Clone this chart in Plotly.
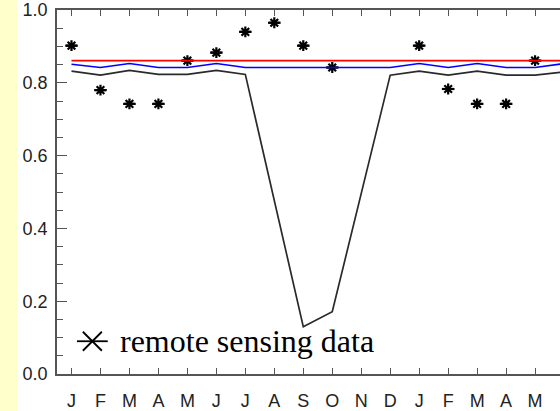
import plotly.graph_objects as go

months = ["J", "F", "M", "A", "M", "J", "J", "A", "S", "O", "N", "D",
          "J", "F", "M", "A", "M", "J"]
month_idx = list(range(len(months)))

black_model = [0.832, 0.821, 0.834, 0.823, 0.823, 0.834, 0.823, 0.475, 0.130,
               0.171, 0.494, 0.821, 0.832, 0.821, 0.832, 0.821, 0.821, 0.830]
blue_model = [0.851, 0.842, 0.853, 0.842, 0.842, 0.853, 0.842, 0.842, 0.842,
              0.842, 0.842, 0.842, 0.853, 0.842, 0.853, 0.842, 0.842, 0.853]
red_model = [0.861] * len(months)

rs_x = [0, 1, 2, 3, 4, 5, 6, 7, 8, 9, 12, 13, 14, 15, 16, 17]
rs_y = [0.902, 0.780, 0.742, 0.742, 0.861, 0.883, 0.940, 0.965, 0.902, 0.842,
        0.902, 0.783, 0.742, 0.742, 0.861, 0.886]

legend_label = "remote sensing data"
legend_pos_x = [0.72]
legend_pos_y = [0.09]
legend_text_x = 1.6

fig = go.Figure()

# remote sensing asterisks
for sym in ["asterisk-open", "line-ew-open"]:
    fig.add_trace(go.Scatter(
        x=rs_x, y=rs_y, mode="markers", cliponaxis=False, showlegend=False,
        marker=dict(symbol=sym, size=9, color="black",
                    line=dict(color="black", width=2.2))))

fig.add_trace(go.Scatter(x=month_idx, y=black_model, mode="lines", showlegend=False,
                         line=dict(color="#2a2a2a", width=1.7)))
fig.add_trace(go.Scatter(x=month_idx, y=blue_model, mode="lines", showlegend=False,
                         line=dict(color="#0000ff", width=1.7)))
fig.add_trace(go.Scatter(x=month_idx, y=red_model, mode="lines", showlegend=False,
                         line=dict(color="#ff0000", width=1.7)))

# manual legend
for sym, sz in [("x-thin-open", 19), ("line-ew-open", 22)]:
    fig.add_trace(go.Scatter(
        x=legend_pos_x, y=legend_pos_y, mode="markers", showlegend=False,
        marker=dict(symbol=sym, size=sz, color="black",
                    line=dict(color="black", width=1.8))))
fig.add_annotation(x=legend_text_x, y=legend_pos_y[0], xref="x", yref="y",
                   text=legend_label, showarrow=False, xanchor="left",
                   yanchor="middle",
                   font=dict(family="Liberation Serif", size=32, color="black"))

axis_col = "#555555"
fig.update_layout(
    width=560, height=411,
    margin=dict(l=57, r=0, t=10, b=33),
    paper_bgcolor="white", plot_bgcolor="white",
    font=dict(family="Liberation Sans", size=18, color="#222222"),
    shapes=[dict(type="rect", xref="paper", yref="paper",
                 x0=-57 / 503, x1=-40 / 503, y0=-0.2, y1=1.1,
                 fillcolor="#FFFFCC", line=dict(width=0), layer="below")],
)
fig.update_xaxes(
    range=[-0.5, 16.86], tickmode="array", tickvals=month_idx, ticktext=months,
    ticks="inside", ticklen=6, tickwidth=1.3, tickcolor=axis_col,
    showline=True, linecolor=axis_col, linewidth=1.5, mirror="ticks",
    showgrid=False, zeroline=False, ticklabelstandoff=10,
)
fig.update_yaxes(
    range=[0, 1], dtick=0.2, tickformat=".1f",
    ticks="inside", ticklen=10, tickwidth=1.3, tickcolor=axis_col,
    minor=dict(dtick=0.05, ticks="inside", ticklen=6, tickcolor=axis_col, tickwidth=1.3),
    showline=True, linecolor=axis_col, linewidth=1.5, mirror=False,
    showgrid=False, zeroline=False, ticklabelstandoff=4,
)

fig.write_html("out.html")
